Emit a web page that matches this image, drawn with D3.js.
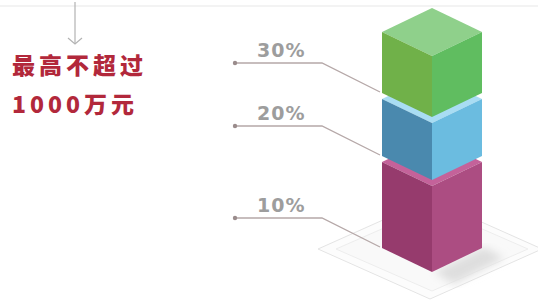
<!DOCTYPE html>
<html>
<head>
<meta charset="utf-8">
<script src="https://cdn.jsdelivr.net/npm/d3@7"></script>
<style>
  html, body { margin: 0; padding: 0; background: #fff; }
  svg { display: block; }
</style>
</head>
<body>
<div id="chart"></div>
<script>
// tiers from bottom to top
var rates = ["10%", "20%", "30%"];
var tierHeight = [86, 57, 61];   // drawn height of each block
var headline = ["最高不超过", "1000万元"];

var faceColors = [
  { top: "#c4629a", left: "#963b6d", right: "#ac4d82" },
  { top: "#a9ddf3", left: "#4a89ae", right: "#6bbce0" },
  { top: "#8fd08b", left: "#70b149", right: "#60bd60" }
];

var width = 538, height = 301;
var gap = 6;

var svg = d3.select("#chart").append("svg")
    .attr("width", width)
    .attr("height", height);

// stack the tiers
var stack = [], acc = 0;
tierHeight.forEach(function(h, i) {
  stack.push({ i: i, y0: acc, y1: acc + h, rate: rates[i] });
  acc += h + gap;
});
var total = acc - gap;

var y = d3.scaleLinear().domain([0, total]).range([248, 32]);

var x0 = 382, xc = 432, x1 = 482, dy = 24;

// faint top line
svg.append("line")
    .attr("x1", 0).attr("x2", width)
    .attr("y1", 6).attr("y2", 6)
    .attr("stroke", "#f3f3f3").attr("stroke-width", 2);

// platform
var defs = svg.append("defs");
defs.append("filter").attr("id", "blur")
  .append("feGaussianBlur").attr("stdDeviation", 4);

function diamond(cx, cy, hw, hh) {
  return [[cx - hw, cy], [cx, cy - hh], [cx + hw, cy], [cx, cy + hh]];
}
var line = d3.line().curve(d3.curveLinearClosed);

svg.append("path")
    .attr("d", line(diamond(430, 249, 112, 50)))
    .attr("fill", "#fcfcfc")
    .attr("stroke", "#e4e4e4");
svg.append("path")
    .attr("d", line(diamond(432, 249, 96, 42)))
    .attr("fill", "#f9f9f9")
    .attr("stroke", "#ededed");

// shadow under cube
svg.append("path")
    .attr("d", line([[434, 272], [484, 247], [504, 258], [454, 284]]))
    .attr("fill", "#dedede")
    .attr("filter", "url(#blur)");

// blocks, bottom first so upper blocks cover lower top faces
var blocks = svg.selectAll("g.block").data(stack).enter()
  .append("g").attr("class", "block");

blocks.append("path")
    .attr("d", function(d) {
      var t = y(d.y1);
      return line([[x0, t], [xc, t - dy], [x1, t], [xc, t + dy]]);
    })
    .attr("fill", function(d) { return faceColors[d.i].top; });

blocks.append("path")
    .attr("d", function(d) {
      var t = y(d.y1), b = y(d.y0);
      return line([[x0, t], [xc, t + dy], [xc, b + dy], [x0, b]]);
    })
    .attr("fill", function(d) { return faceColors[d.i].left; });

blocks.append("path")
    .attr("d", function(d) {
      var t = y(d.y1), b = y(d.y0);
      return line([[xc, t + dy], [x1, t], [x1, b], [xc, b + dy]]);
    })
    .attr("fill", function(d) { return faceColors[d.i].right; });

// leader lines and labels
var leaders = svg.selectAll("g.leader").data(stack).enter()
  .append("g").attr("class", "leader");

leaders.append("path")
    .attr("d", function(d) {
      var b = y(d.y0);
      return d3.line()([[235, b - 30], [322, b - 30], [x0 - 2, b - 1]]);
    })
    .attr("fill", "none")
    .attr("stroke", "#b5a8a8")
    .attr("stroke-width", 1.3);

leaders.append("circle")
    .attr("cx", 235)
    .attr("cy", function(d) { return y(d.y0) - 30; })
    .attr("r", 2.2)
    .attr("fill", "#9a8c8c");

leaders.append("text")
    .attr("x", 257)
    .attr("y", function(d) { return y(d.y0) - 36; })
    .attr("font-family", "DejaVu Sans, sans-serif")
    .attr("font-weight", "bold")
    .attr("font-size", 19)
    .attr("letter-spacing", 1)
    .attr("fill", "#9d9d9d")
    .text(function(d) { return d.rate; });

// arrow
svg.append("line")
    .attr("x1", 75).attr("x2", 75)
    .attr("y1", 2).attr("y2", 44)
    .attr("stroke", "#b3b3b3").attr("stroke-width", 1.2);
svg.append("path")
    .attr("d", d3.line()([[68, 38], [75, 44], [82, 38]]))
    .attr("fill", "none")
    .attr("stroke", "#b3b3b3").attr("stroke-width", 1.2);

// headline
svg.selectAll("text.head").data(headline).enter()
  .append("text")
    .attr("class", "head")
    .attr("x", 12)
    .attr("y", function(d, i) { return i === 0 ? 74 : 113; })
    .attr("font-family", "Noto Sans CJK SC, sans-serif")
    .attr("font-weight", 900)
    .attr("font-size", 23)
    .attr("letter-spacing", 4)
    .attr("fill", "#b2283b")
    .text(function(d) { return d; });
</script>
</body>
</html>
